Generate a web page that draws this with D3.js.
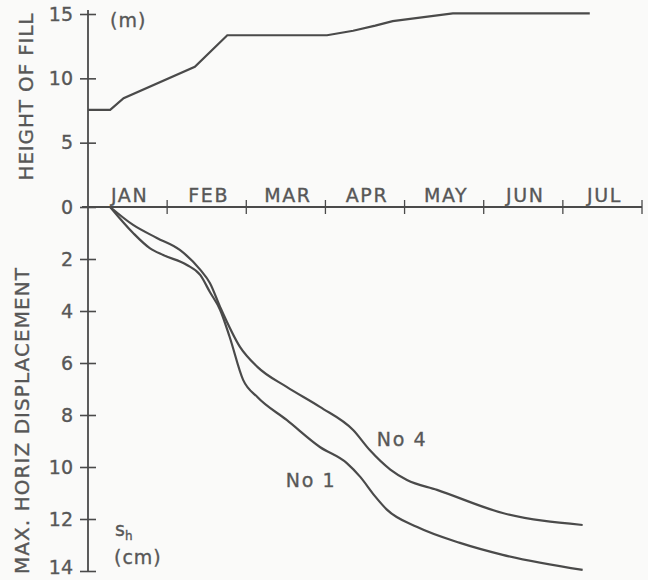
<!DOCTYPE html>
<html>
<head>
<meta charset="utf-8">
<script src="https://cdn.jsdelivr.net/npm/d3@7"></script>
<style>
  body { margin: 0; background: #fafaf9; }
  svg text { font-family: "DejaVu Sans", sans-serif; fill: #575757; stroke: #575757; stroke-width: 0.35; }
</style>
</head>
<body>
<div id="chart"></div>
<script>
'use strict';

// month labels, each centred in its month
const months = ['JAN', 'FEB', 'MAR', 'APR', 'MAY', 'JUN', 'JUL'];

// height of fill (m) against time (months from 1 Jan)
const fillTime   = [0, 0.28, 0.45, 1.35, 1.76, 3.02, 3.35, 3.63, 3.85, 4.61, 6.34];
const fillHeight = [7.55, 7.55, 8.45, 10.9, 13.35, 13.35, 13.7, 14.1, 14.45, 15.05, 15.05];

// max. horizontal displacement (cm), inclinometer No 1
const no1Time = [0.28, 0.57, 0.78, 0.95, 1.25, 1.42, 1.54, 1.67, 1.79, 1.96, 2.14, 2.51, 2.93, 3.27, 3.44, 3.62, 3.78, 4.16, 4.70, 5.24, 6.25];
const no1Disp = [0, 1.0, 1.58, 1.85, 2.23, 2.62, 3.27, 3.96, 5.0, 6.65, 7.31, 8.19, 9.23, 9.85, 10.38, 11.1, 11.65, 12.31, 12.92, 13.38, 13.96];

// inclinometer No 4
const no4Time = [0.28, 0.57, 0.87, 1.16, 1.42, 1.54, 1.67, 1.92, 2.14, 2.51, 2.93, 3.35, 3.56, 3.82, 4.03, 4.41, 5.24, 6.25];
const no4Disp = [0, 0.69, 1.19, 1.65, 2.42, 2.92, 3.85, 5.38, 6.15, 6.92, 7.69, 8.58, 9.35, 10.1, 10.5, 10.88, 11.77, 12.23];

const topTicks = [0, 5, 10, 15];
const botTicks = [2, 4, 6, 8, 10, 12, 14];

const width = 648, height = 580;
const ink = '#4a4a4a';

const svg = d3.select('#chart').append('svg')
    .attr('width', width)
    .attr('height', height);

let x = d3.scaleLinear().domain([0, 7]).range([88, 642]);
let yTop = d3.scaleLinear().domain([0, 15]).range([207, 14]);
let yBot = d3.scaleLinear().domain([0, 14]).range([207, 571]);

function crossTicks (g) {
  g.select('.domain').remove();
  g.selectAll('.tick line')
    .attr('x1', -8).attr('x2', 8)
    .attr('stroke', ink).attr('stroke-width', 1.6);
  g.selectAll('.tick text')
    .attr('x', -15)
    .attr('font-size', 19)
    .attr('fill', '#575757');
}

// vertical axis line, shared by both panels
svg.append('line')
    .attr('x1', x(0)).attr('x2', x(0))
    .attr('y1', yTop(15) - 4).attr('y2', yBot(14))
    .attr('stroke', ink).attr('stroke-width', 1.8);

svg.append('g')
    .attr('transform', 'translate(' + x(0) + ',0)')
    .call(d3.axisLeft(yTop).tickValues(topTicks).tickFormat(d3.format('d')))
    .call(crossTicks);

svg.append('g')
    .attr('transform', 'translate(' + x(0) + ',0)')
    .call(d3.axisLeft(yBot).tickValues(botTicks).tickFormat(d3.format('d')))
    .call(crossTicks)
    .call(g => g.selectAll('.tick text').filter(d => d === 14).attr('dy', '0.15em'));

// time axis along zero
svg.append('line')
    .attr('x1', x(0) - 6).attr('x2', x(7))
    .attr('y1', yTop(0)).attr('y2', yTop(0))
    .attr('stroke', ink).attr('stroke-width', 1.8);

svg.selectAll('.mtick')
  .data(d3.range(1, 8))
  .enter().append('line')
    .attr('class', 'mtick')
    .attr('x1', d => x(d)).attr('x2', d => x(d))
    .attr('y1', yTop(0) - 7).attr('y2', yTop(0) + 7)
    .attr('stroke', ink).attr('stroke-width', 1.3);

svg.selectAll('.mlabel')
  .data(months)
  .enter().append('text')
    .attr('class', 'mlabel')
    .attr('x', (d, i) => x(i + 0.5) + 2)
    .attr('y', yTop(0) - 5)
    .attr('text-anchor', 'middle')
    .attr('font-size', 19)
    .attr('letter-spacing', 1.6)
    .text(d => d);

// curves
let fillLine = d3.line()
    .x((d, i) => x(fillTime[i]))
    .y(d => yTop(d));

svg.append('path')
    .datum(fillHeight)
    .attr('d', fillLine)
    .attr('fill', 'none')
    .attr('stroke', ink)
    .attr('stroke-width', 2.2);

function dispLine (times) {
  return d3.line()
    .x((d, i) => x(times[i]))
    .y(d => yBot(d))
    .curve(d3.curveMonotoneX);
}

svg.append('path')
    .datum(no1Disp)
    .attr('d', dispLine(no1Time))
    .attr('fill', 'none')
    .attr('stroke', ink)
    .attr('stroke-width', 2.2);

svg.append('path')
    .datum(no4Disp)
    .attr('d', dispLine(no4Time))
    .attr('fill', 'none')
    .attr('stroke', ink)
    .attr('stroke-width', 2.2);

// curve labels
svg.append('text')
    .attr('x', x(3.65)).attr('y', yBot(9.2))
    .attr('font-size', 19).attr('letter-spacing', 1.6)
    .text('No 4');

svg.append('text')
    .attr('x', x(2.5)).attr('y', yBot(10.75))
    .attr('font-size', 19).attr('letter-spacing', 1.6)
    .text('No 1');

// units
svg.append('text')
    .attr('x', 110).attr('y', 27)
    .attr('font-size', 19).attr('letter-spacing', 1)
    .text('(m)');

let sh = svg.append('text')
    .attr('x', 115).attr('y', 536)
    .attr('font-size', 19);
sh.append('tspan').text('s');
sh.append('tspan').attr('font-size', 12).attr('dy', 4).text('h');

svg.append('text')
    .attr('x', 114).attr('y', 564)
    .attr('font-size', 19).attr('letter-spacing', 1)
    .text('(cm)');

// axis titles
svg.append('text')
    .attr('transform', 'translate(33,' + 97 + ') rotate(-90)')
    .attr('text-anchor', 'middle')
    .attr('font-size', 20)
    .attr('textLength', 167)
    .attr('lengthAdjust', 'spacing')
    .text('HEIGHT OF FILL');

svg.append('text')
    .attr('transform', 'translate(29,' + 421 + ') rotate(-90)')
    .attr('text-anchor', 'middle')
    .attr('font-size', 20)
    .attr('textLength', 306)
    .attr('lengthAdjust', 'spacing')
    .text('MAX. HORIZ  DISPLACEMENT');
</script>
</body>
</html>
